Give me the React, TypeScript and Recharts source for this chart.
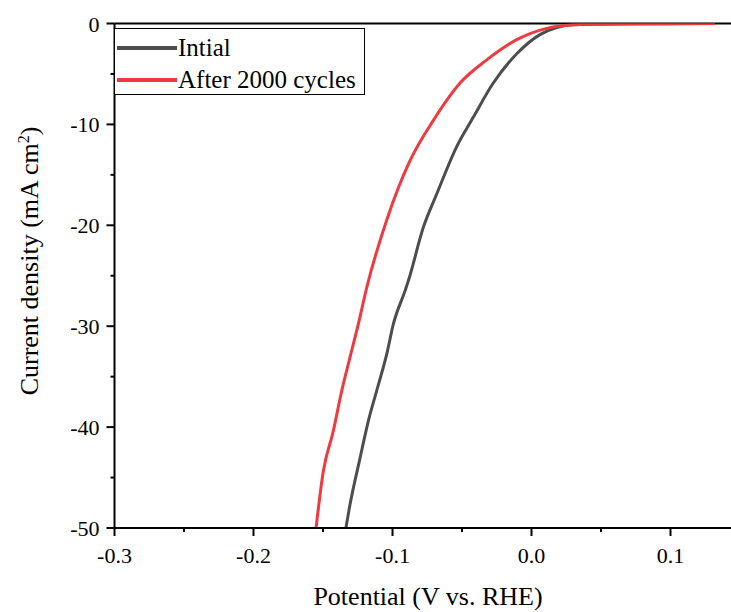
import React from 'react';
import { LineChart, Line, XAxis, YAxis, ReferenceLine, Legend, Label } from 'recharts';

// LSV curves, potential (V vs. RHE) -> current density (mA cm-2)
const initialCurve = [
  { v: -0.1335, j: -50 },
  { v: -0.1306, j: -47.7 },
  { v: -0.1234, j: -43.1 },
  { v: -0.1174, j: -39.4 },
  { v: -0.1114, j: -36.4 },
  { v: -0.1042, j: -32.8 },
  { v: -0.0994, j: -29.8 },
  { v: -0.091, j: -26.5 },
  { v: -0.0886, j: -25.5 },
  { v: -0.0778, j: -20.2 },
  { v: -0.0682, j: -16.9 },
  { v: -0.0538, j: -12.2 },
  { v: -0.0419, j: -9.3 },
  { v: -0.0275, j: -5.9 },
  { v: -0.0106, j: -3.0 },
  { v: 0.0061, j: -1.1 },
  { v: 0.0181, j: -0.4 },
  { v: 0.03, j: -0.12 },
  { v: 0.06, j: -0.04 },
  { v: 0.132, j: -0.01 },
];

const cycledCurve = [
  { v: -0.155, j: -50 },
  { v: -0.1498, j: -44.4 },
  { v: -0.1426, j: -40.4 },
  { v: -0.1365, j: -36.4 },
  { v: -0.1306, j: -33.1 },
  { v: -0.1246, j: -29.8 },
  { v: -0.1186, j: -26.2 },
  { v: -0.1042, j: -19.5 },
  { v: -0.0874, j: -13.6 },
  { v: -0.0706, j: -9.6 },
  { v: -0.0514, j: -5.9 },
  { v: -0.0322, j: -3.6 },
  { v: -0.0106, j: -1.6 },
  { v: 0.011, j: -0.48 },
  { v: 0.0205, j: -0.25 },
  { v: 0.04, j: -0.08 },
  { v: 0.08, j: -0.03 },
  { v: 0.132, j: 0 },
];

const xTicks = [-0.3, -0.25, -0.2, -0.15, -0.1, -0.05, 0, 0.05, 0.1, 0.15];
const yTicks = [-50, -45, -40, -35, -30, -25, -20, -15, -10, -5, 0];

const series = [
  { name: 'Intial', data: initialCurve, color: '#4d4d4d' },
  { name: 'After 2000 cycles', data: cycledCurve, color: '#f03a3f' },
];

const FONT = "'Liberation Serif', 'Times New Roman', serif";
const serif = { fontFamily: FONT };

const isMajorX = (v: number) => Math.round(v * 100) % 10 === 0;
const isMajorY = (v: number) => Math.round(v) % 10 === 0;

const XTick = ({ x, y, payload }: any) => {
  const v = payload.value;
  const major = isMajorX(v);
  return (
    <g>
      <line x1={x} x2={x} y1={y} y2={y + (major ? 8 : 4)} stroke="#000" strokeWidth={2} />
      {major && (
        <text x={x} y={y + 35} textAnchor="middle" style={serif} fontSize={22} fill="#000">
          {Math.abs(v) < 1e-9 ? '0.0' : v.toFixed(1)}
        </text>
      )}
    </g>
  );
};

const YTick = ({ x, y, payload }: any) => {
  const v = payload.value;
  const major = isMajorY(v);
  return (
    <g>
      <line x1={x} x2={x - (major ? 8 : 4)} y1={y} y2={y} stroke="#000" strokeWidth={2} />
      {major && (
        <text x={x - 15} y={y + 8} textAnchor="end" style={serif} fontSize={22} fill="#000">
          {String(v)}
        </text>
      )}
    </g>
  );
};

const LegendBox = () => (
  <div
    style={{
      border: '1px solid #000',
      width: 251,
      height: 67,
      background: '#fff',
      fontFamily: FONT,
      fontSize: 25,
      paddingTop: 3,
      boxSizing: 'border-box',
    }}
  >
    {series.map((s) => (
      <div key={s.name} style={{ display: 'flex', alignItems: 'center', height: 32, whiteSpace: 'nowrap' }}>
        <span style={{ display: 'inline-block', width: 60, height: 4, background: s.color, marginLeft: 2 }} />
        <span style={{ marginLeft: 1, color: '#000' }}>{s.name}</span>
      </div>
    ))}
  </div>
);

export default function App() {
  return (
    <div
      style={{
        position: 'absolute',
        left: 0,
        top: 0,
        width: 731,
        height: 612,
        overflow: 'hidden',
        background: '#fff',
      }}
    >
      <LineChart width={760} height={612} margin={{ top: 23.5, right: 20, bottom: 0, left: 0 }}>
        <XAxis
          type="number"
          dataKey="v"
          domain={[-0.3, 0.15]}
          ticks={xTicks}
          interval={0}
          allowDataOverflow
          height={84}
          tickSize={0}
          tickMargin={0}
          tickLine={false}
          tick={<XTick />}
          axisLine={{ stroke: '#000', strokeWidth: 2 }}
        >
          <Label
            content={() => (
              <text x={428} y={605} textAnchor="middle" style={serif} fontSize={26} fill="#000">
                Potential (V vs. RHE)
              </text>
            )}
          />
        </XAxis>
        <YAxis
          type="number"
          domain={[-50, 0]}
          ticks={yTicks}
          interval={0}
          allowDataOverflow
          width={114.5}
          tickSize={0}
          tickMargin={0}
          tickLine={false}
          tick={<YTick />}
          axisLine={{ stroke: '#000', strokeWidth: 2 }}
        >
          <Label
            content={() => (
              <text
                x={38}
                y={261}
                textAnchor="middle"
                transform="rotate(-90, 38, 261)"
                style={serif}
                fontSize={26}
                fill="#000"
              >
                Current density (mA cm
                <tspan dy={-9} fontSize={16}>2</tspan>
                <tspan dy={9}>)</tspan>
              </text>
            )}
          />
        </YAxis>
        <ReferenceLine y={0} stroke="#000" strokeWidth={2} />
        {series.map((s) => (
          <Line
            key={s.name}
            data={s.data}
            dataKey="j"
            name={s.name}
            type="monotone"
            stroke={s.color}
            strokeWidth={3}
            dot={false}
            activeDot={false}
            isAnimationActive={false}
          />
        ))}
        <Legend
          layout="vertical"
          align="center"
          verticalAlign="middle"
          content={<LegendBox />}
          wrapperStyle={{ left: 114, top: 28, width: 251, height: 67 }}
        />
      </LineChart>
    </div>
  );
}
